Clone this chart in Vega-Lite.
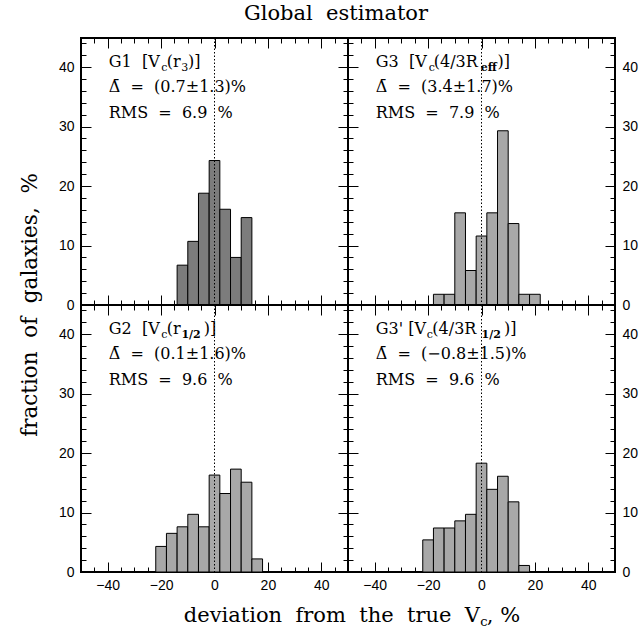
{
"$schema": "https://vega.github.io/schema/vega-lite/v6.json",
"autosize": "none",
"padding": {"left": 81, "top": 38, "right": 560, "bottom": 599},
"datasets": {"h": [
{"panel":"G1","lo":-14,"hi":-10,"pct":6.7},{"panel":"G1","lo":-10,"hi":-6,"pct":10.7},{"panel":"G1","lo":-6,"hi":-2,"pct":18.8},{"panel":"G1","lo":-2,"hi":2,"pct":24.3},{"panel":"G1","lo":2,"hi":6,"pct":16.1},{"panel":"G1","lo":6,"hi":10,"pct":8.0},{"panel":"G1","lo":10,"hi":14,"pct":14.7},
{"panel":"G3","lo":-18,"hi":-14,"pct":1.8},{"panel":"G3","lo":-14,"hi":-10,"pct":1.8},{"panel":"G3","lo":-10,"hi":-6,"pct":15.5},{"panel":"G3","lo":-6,"hi":-2,"pct":5.8},{"panel":"G3","lo":-2,"hi":2,"pct":11.6},{"panel":"G3","lo":2,"hi":6,"pct":15.5},{"panel":"G3","lo":6,"hi":10,"pct":29.3},{"panel":"G3","lo":10,"hi":14,"pct":13.7},{"panel":"G3","lo":14,"hi":18,"pct":1.8},{"panel":"G3","lo":18,"hi":22,"pct":1.8},
{"panel":"G2","lo":-22,"hi":-18,"pct":4.3},{"panel":"G2","lo":-18,"hi":-14,"pct":6.5},{"panel":"G2","lo":-14,"hi":-10,"pct":7.6},{"panel":"G2","lo":-10,"hi":-6,"pct":9.7},{"panel":"G2","lo":-6,"hi":-2,"pct":7.6},{"panel":"G2","lo":-2,"hi":2,"pct":16.3},{"panel":"G2","lo":2,"hi":6,"pct":13.2},{"panel":"G2","lo":6,"hi":10,"pct":17.3},{"panel":"G2","lo":10,"hi":14,"pct":15.1},{"panel":"G2","lo":14,"hi":18,"pct":2.2},
{"panel":"G3p","lo":-22,"hi":-18,"pct":5.4},{"panel":"G3p","lo":-18,"hi":-14,"pct":7.4},{"panel":"G3p","lo":-14,"hi":-10,"pct":7.4},{"panel":"G3p","lo":-10,"hi":-6,"pct":8.6},{"panel":"G3p","lo":-6,"hi":-2,"pct":9.7},{"panel":"G3p","lo":-2,"hi":2,"pct":18.3},{"panel":"G3p","lo":2,"hi":6,"pct":13.9},{"panel":"G3p","lo":6,"hi":10,"pct":16.1},{"panel":"G3p","lo":10,"hi":14,"pct":11.8},{"panel":"G3p","lo":14,"hi":18,"pct":1.1}
]},
"columns": 2,
"spacing": 0,
"bounds": "flush",
"concat": [
{
"width": 267, "height": 267,
"resolve": {"axis": {"x": "independent", "y": "independent"}},
"layer": [
{"data":{"name":"h"},"transform":[{"filter":"datum.panel === 'G1'"}],"mark":{"type":"rect","fill":"#7c7c7c","stroke":"black","strokeWidth":1},"encoding":{"x":{"field":"lo","type":"quantitative","scale":{"domain":[-50,50],"nice":false,"zero":false},"axis":null},"x2":{"field":"hi"},"y":{"field":"pct","type":"quantitative","scale":{"domain":[0,44.9],"nice":false,"zero":false},"axis":null},"y2":{"datum":0}}},
{"data":{"values":[{}]},"mark":{"type":"rule","color":"black","strokeWidth":1,"strokeDash":[1.5,2]},"encoding":{"x":{"datum":0,"type":"quantitative","scale":{"domain":[-50,50],"nice":false,"zero":false},"axis":null}}},
{"data":{"values":[{}]},"mark":{"type":"text","text":"Global\u00a0\u00a0estimator","font":"DejaVu Serif","fontSize":21,"align":"center","baseline":"alphabetic","color":"black"},"encoding":{"x":{"datum":45.5,"type":"quantitative","scale":{"domain":[-50,50],"nice":false,"zero":false},"axis":null},"y":{"datum":47.9,"type":"quantitative","scale":{"domain":[0,44.9],"nice":false,"zero":false},"axis":null}}},
{"data":{"values":[{}]},"mark":{"type":"text","text":"G1\u00a0\u00a0[V","font":"DejaVu Serif","fontSize":16,"align":"left","baseline":"alphabetic","color":"black"},"encoding":{"x":{"datum":-39.6,"type":"quantitative","scale":{"domain":[-50,50],"nice":false,"zero":false},"axis":null},"y":{"datum":40.1,"type":"quantitative","scale":{"domain":[0,44.9],"nice":false,"zero":false},"axis":null}}},
{"data":{"values":[{}]},"mark":{"type":"text","text":"c","font":"DejaVu Serif","fontSize":11,"align":"left","baseline":"alphabetic","dy":4,"color":"black"},"encoding":{"x":{"datum":-19.9,"type":"quantitative","scale":{"domain":[-50,50],"nice":false,"zero":false},"axis":null},"y":{"datum":40.1,"type":"quantitative","scale":{"domain":[0,44.9],"nice":false,"zero":false},"axis":null}}},
{"data":{"values":[{}]},"mark":{"type":"text","text":"(r","font":"DejaVu Serif","fontSize":16,"align":"left","baseline":"alphabetic","color":"black"},"encoding":{"x":{"datum":-17.9,"type":"quantitative","scale":{"domain":[-50,50],"nice":false,"zero":false},"axis":null},"y":{"datum":40.1,"type":"quantitative","scale":{"domain":[0,44.9],"nice":false,"zero":false},"axis":null}}},
{"data":{"values":[{}]},"mark":{"type":"text","text":"3","font":"DejaVu Serif","fontSize":11,"align":"left","baseline":"alphabetic","dy":4,"color":"black"},"encoding":{"x":{"datum":-12.5,"type":"quantitative","scale":{"domain":[-50,50],"nice":false,"zero":false},"axis":null},"y":{"datum":40.1,"type":"quantitative","scale":{"domain":[0,44.9],"nice":false,"zero":false},"axis":null}}},
{"data":{"values":[{}]},"mark":{"type":"text","text":")]","font":"DejaVu Serif","fontSize":16,"align":"left","baseline":"alphabetic","color":"black"},"encoding":{"x":{"datum":-9.9,"type":"quantitative","scale":{"domain":[-50,50],"nice":false,"zero":false},"axis":null},"y":{"datum":40.1,"type":"quantitative","scale":{"domain":[0,44.9],"nice":false,"zero":false},"axis":null}}},
{"data":{"values":[{}]},"mark":{"type":"text","text":"\u0394\u0304\u00a0\u00a0=\u00a0\u00a0(0.7\u00b11.3)%","font":"DejaVu Serif","fontSize":16,"align":"left","baseline":"alphabetic","color":"black"},"encoding":{"x":{"datum":-39.6,"type":"quantitative","scale":{"domain":[-50,50],"nice":false,"zero":false},"axis":null},"y":{"datum":35.9,"type":"quantitative","scale":{"domain":[0,44.9],"nice":false,"zero":false},"axis":null}}},
{"data":{"values":[{}]},"mark":{"type":"text","text":"RMS\u00a0\u00a0=\u00a0\u00a06.9\u00a0\u00a0%","font":"DejaVu Serif","fontSize":16,"align":"left","baseline":"alphabetic","color":"black"},"encoding":{"x":{"datum":-39.6,"type":"quantitative","scale":{"domain":[-50,50],"nice":false,"zero":false},"axis":null},"y":{"datum":31.5,"type":"quantitative","scale":{"domain":[0,44.9],"nice":false,"zero":false},"axis":null}}},
{"data":{"values":[{}]},"mark":{"type":"text","text":"fraction\u00a0\u00a0of\u00a0\u00a0galaxies,\u00a0\u00a0%","font":"DejaVu Serif","fontSize":21.5,"align":"center","baseline":"alphabetic","angle":270,"color":"black"},"encoding":{"x":{"datum":-66.5,"type":"quantitative","scale":{"domain":[-50,50],"nice":false,"zero":false},"axis":null},"y":{"datum":0,"type":"quantitative","scale":{"domain":[0,44.9],"nice":false,"zero":false},"axis":null}}},
{"data":{"values":[{}]},"mark":{"type":"point","opacity":0},"encoding":{"x":{"datum":0,"type":"quantitative","scale":{"domain":[-50,50],"nice":false,"zero":false},"axis":{"orient":"bottom","values":[-40,-20,0,20,40],"labels":false,"domain":false,"grid":false,"tickSize":-10,"tickColor":"black","title":null}},"y":{"datum":0,"type":"quantitative","scale":{"domain":[0,44.9],"nice":false,"zero":false},"axis":{"orient":"left","values":[0,10,20,30,40],"labels":false,"domain":false,"grid":false,"tickSize":-10,"tickColor":"black","title":null}}}},
{"data":{"values":[{}]},"mark":{"type":"point","opacity":0},"encoding":{"x":{"datum":0,"type":"quantitative","scale":{"domain":[-50,50],"nice":false,"zero":false},"axis":{"orient":"bottom","values":[-45,-35,-30,-25,-15,-10,-5,5,10,15,25,30,35,45],"labels":false,"domain":false,"grid":false,"tickSize":-5,"tickColor":"black","title":null}},"y":{"datum":0,"type":"quantitative","scale":{"domain":[0,44.9],"nice":false,"zero":false},"axis":{"orient":"left","values":[2,4,6,8,12,14,16,18,22,24,26,28,32,34,36,38,42,44],"labels":false,"domain":false,"grid":false,"tickSize":-5,"tickColor":"black","title":null}}}},
{"data":{"values":[{}]},"mark":{"type":"point","opacity":0},"encoding":{"x":{"datum":0,"type":"quantitative","scale":{"domain":[-50,50],"nice":false,"zero":false},"axis":{"orient":"top","values":[-40,-20,0,20,40],"labels":false,"domain":false,"grid":false,"tickSize":-10,"tickColor":"black","title":null}},"y":{"datum":0,"type":"quantitative","scale":{"domain":[0,44.9],"nice":false,"zero":false},"axis":{"orient":"right","values":[0,10,20,30,40],"labels":false,"domain":false,"grid":false,"tickSize":-10,"tickColor":"black","title":null}}}},
{"data":{"values":[{}]},"mark":{"type":"point","opacity":0},"encoding":{"x":{"datum":0,"type":"quantitative","scale":{"domain":[-50,50],"nice":false,"zero":false},"axis":{"orient":"top","values":[-45,-35,-30,-25,-15,-10,-5,5,10,15,25,30,35,45],"labels":false,"domain":false,"grid":false,"tickSize":-5,"tickColor":"black","title":null}},"y":{"datum":0,"type":"quantitative","scale":{"domain":[0,44.9],"nice":false,"zero":false},"axis":{"orient":"right","values":[2,4,6,8,12,14,16,18,22,24,26,28,32,34,36,38,42,44],"labels":false,"domain":false,"grid":false,"tickSize":-5,"tickColor":"black","title":null}}}},
{"data":{"values":[{}]},"mark":{"type":"point","opacity":0},"encoding":{"y":{"datum":0,"type":"quantitative","scale":{"domain":[0,44.9],"nice":false,"zero":false},"axis":{"orient":"left","values":[0,10,20,30,40],"ticks":false,"domain":false,"grid":false,"labelPadding":7,"labelFont":"Liberation Sans","labelFontSize":14,"labelColor":"black","labelOverlap":false,"labelFlush":false,"title":null}}}}
]
},
{
"width": 267, "height": 267,
"resolve": {"axis": {"x": "independent", "y": "independent"}},
"layer": [
{"data":{"name":"h"},"transform":[{"filter":"datum.panel === 'G3'"}],"mark":{"type":"rect","fill":"#a8a8a8","stroke":"black","strokeWidth":1},"encoding":{"x":{"field":"lo","type":"quantitative","scale":{"domain":[-50,50],"nice":false,"zero":false},"axis":null},"x2":{"field":"hi"},"y":{"field":"pct","type":"quantitative","scale":{"domain":[0,44.9],"nice":false,"zero":false},"axis":null},"y2":{"datum":0}}},
{"data":{"values":[{}]},"mark":{"type":"rule","color":"black","strokeWidth":1,"strokeDash":[1.5,2]},"encoding":{"x":{"datum":0,"type":"quantitative","scale":{"domain":[-50,50],"nice":false,"zero":false},"axis":null}}},
{"data":{"values":[{}]},"mark":{"type":"text","text":"G3\u00a0\u00a0[V","font":"DejaVu Serif","fontSize":16,"align":"left","baseline":"alphabetic","color":"black"},"encoding":{"x":{"datum":-39.6,"type":"quantitative","scale":{"domain":[-50,50],"nice":false,"zero":false},"axis":null},"y":{"datum":40.1,"type":"quantitative","scale":{"domain":[0,44.9],"nice":false,"zero":false},"axis":null}}},
{"data":{"values":[{}]},"mark":{"type":"text","text":"c","font":"DejaVu Serif","fontSize":11,"align":"left","baseline":"alphabetic","dy":4,"color":"black"},"encoding":{"x":{"datum":-19.8,"type":"quantitative","scale":{"domain":[-50,50],"nice":false,"zero":false},"axis":null},"y":{"datum":40.1,"type":"quantitative","scale":{"domain":[0,44.9],"nice":false,"zero":false},"axis":null}}},
{"data":{"values":[{}]},"mark":{"type":"text","text":"(4/3R","font":"DejaVu Serif","fontSize":16,"align":"left","baseline":"alphabetic","color":"black"},"encoding":{"x":{"datum":-17.9,"type":"quantitative","scale":{"domain":[-50,50],"nice":false,"zero":false},"axis":null},"y":{"datum":40.1,"type":"quantitative","scale":{"domain":[0,44.9],"nice":false,"zero":false},"axis":null}}},
{"data":{"values":[{}]},"mark":{"type":"text","text":"eff","font":"DejaVu Serif","fontSize":11,"fontWeight":"bold","align":"left","baseline":"alphabetic","dy":4,"color":"black"},"encoding":{"x":{"datum":-0.3,"type":"quantitative","scale":{"domain":[-50,50],"nice":false,"zero":false},"axis":null},"y":{"datum":40.1,"type":"quantitative","scale":{"domain":[0,44.9],"nice":false,"zero":false},"axis":null}}},
{"data":{"values":[{}]},"mark":{"type":"text","text":")]","font":"DejaVu Serif","fontSize":16,"align":"left","baseline":"alphabetic","color":"black"},"encoding":{"x":{"datum":6.0,"type":"quantitative","scale":{"domain":[-50,50],"nice":false,"zero":false},"axis":null},"y":{"datum":40.1,"type":"quantitative","scale":{"domain":[0,44.9],"nice":false,"zero":false},"axis":null}}},
{"data":{"values":[{}]},"mark":{"type":"text","text":"\u0394\u0304\u00a0\u00a0=\u00a0\u00a0(3.4\u00b11.7)%","font":"DejaVu Serif","fontSize":16,"align":"left","baseline":"alphabetic","color":"black"},"encoding":{"x":{"datum":-39.6,"type":"quantitative","scale":{"domain":[-50,50],"nice":false,"zero":false},"axis":null},"y":{"datum":35.9,"type":"quantitative","scale":{"domain":[0,44.9],"nice":false,"zero":false},"axis":null}}},
{"data":{"values":[{}]},"mark":{"type":"text","text":"RMS\u00a0\u00a0=\u00a0\u00a07.9\u00a0\u00a0%","font":"DejaVu Serif","fontSize":16,"align":"left","baseline":"alphabetic","color":"black"},"encoding":{"x":{"datum":-39.6,"type":"quantitative","scale":{"domain":[-50,50],"nice":false,"zero":false},"axis":null},"y":{"datum":31.5,"type":"quantitative","scale":{"domain":[0,44.9],"nice":false,"zero":false},"axis":null}}},
{"data":{"values":[{}]},"mark":{"type":"point","opacity":0},"encoding":{"x":{"datum":0,"type":"quantitative","scale":{"domain":[-50,50],"nice":false,"zero":false},"axis":{"orient":"bottom","values":[-40,-20,0,20,40],"labels":false,"domain":false,"grid":false,"tickSize":-10,"tickColor":"black","title":null}},"y":{"datum":0,"type":"quantitative","scale":{"domain":[0,44.9],"nice":false,"zero":false},"axis":{"orient":"left","values":[0,10,20,30,40],"labels":false,"domain":false,"grid":false,"tickSize":-10,"tickColor":"black","title":null}}}},
{"data":{"values":[{}]},"mark":{"type":"point","opacity":0},"encoding":{"x":{"datum":0,"type":"quantitative","scale":{"domain":[-50,50],"nice":false,"zero":false},"axis":{"orient":"bottom","values":[-45,-35,-30,-25,-15,-10,-5,5,10,15,25,30,35,45],"labels":false,"domain":false,"grid":false,"tickSize":-5,"tickColor":"black","title":null}},"y":{"datum":0,"type":"quantitative","scale":{"domain":[0,44.9],"nice":false,"zero":false},"axis":{"orient":"left","values":[2,4,6,8,12,14,16,18,22,24,26,28,32,34,36,38,42,44],"labels":false,"domain":false,"grid":false,"tickSize":-5,"tickColor":"black","title":null}}}},
{"data":{"values":[{}]},"mark":{"type":"point","opacity":0},"encoding":{"x":{"datum":0,"type":"quantitative","scale":{"domain":[-50,50],"nice":false,"zero":false},"axis":{"orient":"top","values":[-40,-20,0,20,40],"labels":false,"domain":false,"grid":false,"tickSize":-10,"tickColor":"black","title":null}},"y":{"datum":0,"type":"quantitative","scale":{"domain":[0,44.9],"nice":false,"zero":false},"axis":{"orient":"right","values":[0,10,20,30,40],"labels":false,"domain":false,"grid":false,"tickSize":-10,"tickColor":"black","title":null}}}},
{"data":{"values":[{}]},"mark":{"type":"point","opacity":0},"encoding":{"x":{"datum":0,"type":"quantitative","scale":{"domain":[-50,50],"nice":false,"zero":false},"axis":{"orient":"top","values":[-45,-35,-30,-25,-15,-10,-5,5,10,15,25,30,35,45],"labels":false,"domain":false,"grid":false,"tickSize":-5,"tickColor":"black","title":null}},"y":{"datum":0,"type":"quantitative","scale":{"domain":[0,44.9],"nice":false,"zero":false},"axis":{"orient":"right","values":[2,4,6,8,12,14,16,18,22,24,26,28,32,34,36,38,42,44],"labels":false,"domain":false,"grid":false,"tickSize":-5,"tickColor":"black","title":null}}}},
{"data":{"values":[{}]},"mark":{"type":"point","opacity":0},"encoding":{"y":{"datum":0,"type":"quantitative","scale":{"domain":[0,44.9],"nice":false,"zero":false},"axis":{"orient":"right","values":[0,10,20,30,40],"ticks":false,"domain":false,"grid":false,"labelPadding":7,"labelFont":"Liberation Sans","labelFontSize":14,"labelColor":"black","labelOverlap":false,"labelFlush":false,"title":null}}}}
]
},
{
"width": 267, "height": 267,
"resolve": {"axis": {"x": "independent", "y": "independent"}},
"layer": [
{"data":{"name":"h"},"transform":[{"filter":"datum.panel === 'G2'"}],"mark":{"type":"rect","fill":"#a8a8a8","stroke":"black","strokeWidth":1},"encoding":{"x":{"field":"lo","type":"quantitative","scale":{"domain":[-50,50],"nice":false,"zero":false},"axis":null},"x2":{"field":"hi"},"y":{"field":"pct","type":"quantitative","scale":{"domain":[0,44.9],"nice":false,"zero":false},"axis":null},"y2":{"datum":0}}},
{"data":{"values":[{}]},"mark":{"type":"rule","color":"black","strokeWidth":1,"strokeDash":[1.5,2]},"encoding":{"x":{"datum":0,"type":"quantitative","scale":{"domain":[-50,50],"nice":false,"zero":false},"axis":null}}},
{"data":{"values":[{}]},"mark":{"type":"text","text":"G2\u00a0\u00a0[V","font":"DejaVu Serif","fontSize":16,"align":"left","baseline":"alphabetic","color":"black"},"encoding":{"x":{"datum":-39.6,"type":"quantitative","scale":{"domain":[-50,50],"nice":false,"zero":false},"axis":null},"y":{"datum":40.1,"type":"quantitative","scale":{"domain":[0,44.9],"nice":false,"zero":false},"axis":null}}},
{"data":{"values":[{}]},"mark":{"type":"text","text":"c","font":"DejaVu Serif","fontSize":11,"align":"left","baseline":"alphabetic","dy":4,"color":"black"},"encoding":{"x":{"datum":-19.9,"type":"quantitative","scale":{"domain":[-50,50],"nice":false,"zero":false},"axis":null},"y":{"datum":40.1,"type":"quantitative","scale":{"domain":[0,44.9],"nice":false,"zero":false},"axis":null}}},
{"data":{"values":[{}]},"mark":{"type":"text","text":"(r","font":"DejaVu Serif","fontSize":16,"align":"left","baseline":"alphabetic","color":"black"},"encoding":{"x":{"datum":-17.9,"type":"quantitative","scale":{"domain":[-50,50],"nice":false,"zero":false},"axis":null},"y":{"datum":40.1,"type":"quantitative","scale":{"domain":[0,44.9],"nice":false,"zero":false},"axis":null}}},
{"data":{"values":[{}]},"mark":{"type":"text","text":"1/2","font":"DejaVu Serif","fontSize":11,"fontWeight":"bold","align":"left","baseline":"alphabetic","dy":4,"color":"black"},"encoding":{"x":{"datum":-12.4,"type":"quantitative","scale":{"domain":[-50,50],"nice":false,"zero":false},"axis":null},"y":{"datum":40.1,"type":"quantitative","scale":{"domain":[0,44.9],"nice":false,"zero":false},"axis":null}}},
{"data":{"values":[{}]},"mark":{"type":"text","text":")]","font":"DejaVu Serif","fontSize":16,"align":"left","baseline":"alphabetic","color":"black"},"encoding":{"x":{"datum":-4.0,"type":"quantitative","scale":{"domain":[-50,50],"nice":false,"zero":false},"axis":null},"y":{"datum":40.1,"type":"quantitative","scale":{"domain":[0,44.9],"nice":false,"zero":false},"axis":null}}},
{"data":{"values":[{}]},"mark":{"type":"text","text":"\u0394\u0304\u00a0\u00a0=\u00a0\u00a0(0.1\u00b11.6)%","font":"DejaVu Serif","fontSize":16,"align":"left","baseline":"alphabetic","color":"black"},"encoding":{"x":{"datum":-39.6,"type":"quantitative","scale":{"domain":[-50,50],"nice":false,"zero":false},"axis":null},"y":{"datum":35.9,"type":"quantitative","scale":{"domain":[0,44.9],"nice":false,"zero":false},"axis":null}}},
{"data":{"values":[{}]},"mark":{"type":"text","text":"RMS\u00a0\u00a0=\u00a0\u00a09.6\u00a0\u00a0%","font":"DejaVu Serif","fontSize":16,"align":"left","baseline":"alphabetic","color":"black"},"encoding":{"x":{"datum":-39.6,"type":"quantitative","scale":{"domain":[-50,50],"nice":false,"zero":false},"axis":null},"y":{"datum":31.5,"type":"quantitative","scale":{"domain":[0,44.9],"nice":false,"zero":false},"axis":null}}},
{"data":{"values":[{}]},"mark":{"type":"text","text":"deviation\u00a0\u00a0from\u00a0\u00a0the\u00a0\u00a0true\u00a0\u00a0V","font":"DejaVu Serif","fontSize":21,"align":"right","baseline":"alphabetic","color":"black"},"encoding":{"x":{"datum":99.4,"type":"quantitative","scale":{"domain":[-50,50],"nice":false,"zero":false},"axis":null},"y":{"datum":-8.4,"type":"quantitative","scale":{"domain":[0,44.9],"nice":false,"zero":false},"axis":null}}},
{"data":{"values":[{}]},"mark":{"type":"text","text":"c","font":"DejaVu Serif","fontSize":13,"align":"left","baseline":"alphabetic","dy":4,"color":"black"},"encoding":{"x":{"datum":99.5,"type":"quantitative","scale":{"domain":[-50,50],"nice":false,"zero":false},"axis":null},"y":{"datum":-8.4,"type":"quantitative","scale":{"domain":[0,44.9],"nice":false,"zero":false},"axis":null}}},
{"data":{"values":[{}]},"mark":{"type":"text","text":",\u00a0%","font":"DejaVu Serif","fontSize":21,"align":"left","baseline":"alphabetic","color":"black"},"encoding":{"x":{"datum":102.0,"type":"quantitative","scale":{"domain":[-50,50],"nice":false,"zero":false},"axis":null},"y":{"datum":-8.4,"type":"quantitative","scale":{"domain":[0,44.9],"nice":false,"zero":false},"axis":null}}},
{"data":{"values":[{}]},"mark":{"type":"point","opacity":0},"encoding":{"x":{"datum":0,"type":"quantitative","scale":{"domain":[-50,50],"nice":false,"zero":false},"axis":{"orient":"bottom","values":[-40,-20,0,20,40],"labels":false,"domain":false,"grid":false,"tickSize":-10,"tickColor":"black","title":null}},"y":{"datum":0,"type":"quantitative","scale":{"domain":[0,44.9],"nice":false,"zero":false},"axis":{"orient":"left","values":[0,10,20,30,40],"labels":false,"domain":false,"grid":false,"tickSize":-10,"tickColor":"black","title":null}}}},
{"data":{"values":[{}]},"mark":{"type":"point","opacity":0},"encoding":{"x":{"datum":0,"type":"quantitative","scale":{"domain":[-50,50],"nice":false,"zero":false},"axis":{"orient":"bottom","values":[-45,-35,-30,-25,-15,-10,-5,5,10,15,25,30,35,45],"labels":false,"domain":false,"grid":false,"tickSize":-5,"tickColor":"black","title":null}},"y":{"datum":0,"type":"quantitative","scale":{"domain":[0,44.9],"nice":false,"zero":false},"axis":{"orient":"left","values":[2,4,6,8,12,14,16,18,22,24,26,28,32,34,36,38,42,44],"labels":false,"domain":false,"grid":false,"tickSize":-5,"tickColor":"black","title":null}}}},
{"data":{"values":[{}]},"mark":{"type":"point","opacity":0},"encoding":{"x":{"datum":0,"type":"quantitative","scale":{"domain":[-50,50],"nice":false,"zero":false},"axis":{"orient":"top","values":[-40,-20,0,20,40],"labels":false,"domain":false,"grid":false,"tickSize":-10,"tickColor":"black","title":null}},"y":{"datum":0,"type":"quantitative","scale":{"domain":[0,44.9],"nice":false,"zero":false},"axis":{"orient":"right","values":[0,10,20,30,40],"labels":false,"domain":false,"grid":false,"tickSize":-10,"tickColor":"black","title":null}}}},
{"data":{"values":[{}]},"mark":{"type":"point","opacity":0},"encoding":{"x":{"datum":0,"type":"quantitative","scale":{"domain":[-50,50],"nice":false,"zero":false},"axis":{"orient":"top","values":[-45,-35,-30,-25,-15,-10,-5,5,10,15,25,30,35,45],"labels":false,"domain":false,"grid":false,"tickSize":-5,"tickColor":"black","title":null}},"y":{"datum":0,"type":"quantitative","scale":{"domain":[0,44.9],"nice":false,"zero":false},"axis":{"orient":"right","values":[2,4,6,8,12,14,16,18,22,24,26,28,32,34,36,38,42,44],"labels":false,"domain":false,"grid":false,"tickSize":-5,"tickColor":"black","title":null}}}},
{"data":{"values":[{}]},"mark":{"type":"point","opacity":0},"encoding":{"x":{"datum":0,"type":"quantitative","scale":{"domain":[-50,50],"nice":false,"zero":false},"axis":{"orient":"bottom","values":[-40,-20,0,20,40],"ticks":false,"domain":false,"grid":false,"labelPadding":6,"labelFont":"Liberation Sans","labelFontSize":14,"labelColor":"black","labelOverlap":false,"labelFlush":false,"title":null}},"y":{"datum":0,"type":"quantitative","scale":{"domain":[0,44.9],"nice":false,"zero":false},"axis":{"orient":"left","values":[0,10,20,30,40],"ticks":false,"domain":false,"grid":false,"labelPadding":7,"labelFont":"Liberation Sans","labelFontSize":14,"labelColor":"black","labelOverlap":false,"labelFlush":false,"title":null}}}}
]
},
{
"width": 267, "height": 267,
"resolve": {"axis": {"x": "independent", "y": "independent"}},
"layer": [
{"data":{"name":"h"},"transform":[{"filter":"datum.panel === 'G3p'"}],"mark":{"type":"rect","fill":"#a8a8a8","stroke":"black","strokeWidth":1},"encoding":{"x":{"field":"lo","type":"quantitative","scale":{"domain":[-50,50],"nice":false,"zero":false},"axis":null},"x2":{"field":"hi"},"y":{"field":"pct","type":"quantitative","scale":{"domain":[0,44.9],"nice":false,"zero":false},"axis":null},"y2":{"datum":0}}},
{"data":{"values":[{}]},"mark":{"type":"rule","color":"black","strokeWidth":1,"strokeDash":[1.5,2]},"encoding":{"x":{"datum":0,"type":"quantitative","scale":{"domain":[-50,50],"nice":false,"zero":false},"axis":null}}},
{"data":{"values":[{}]},"mark":{"type":"text","text":"G3'\u00a0[V","font":"DejaVu Serif","fontSize":16,"align":"left","baseline":"alphabetic","color":"black"},"encoding":{"x":{"datum":-39.6,"type":"quantitative","scale":{"domain":[-50,50],"nice":false,"zero":false},"axis":null},"y":{"datum":40.1,"type":"quantitative","scale":{"domain":[0,44.9],"nice":false,"zero":false},"axis":null}}},
{"data":{"values":[{}]},"mark":{"type":"text","text":"c","font":"DejaVu Serif","fontSize":11,"align":"left","baseline":"alphabetic","dy":4,"color":"black"},"encoding":{"x":{"datum":-20.5,"type":"quantitative","scale":{"domain":[-50,50],"nice":false,"zero":false},"axis":null},"y":{"datum":40.1,"type":"quantitative","scale":{"domain":[0,44.9],"nice":false,"zero":false},"axis":null}}},
{"data":{"values":[{}]},"mark":{"type":"text","text":"(4/3R","font":"DejaVu Serif","fontSize":16,"align":"left","baseline":"alphabetic","color":"black"},"encoding":{"x":{"datum":-18.4,"type":"quantitative","scale":{"domain":[-50,50],"nice":false,"zero":false},"axis":null},"y":{"datum":40.1,"type":"quantitative","scale":{"domain":[0,44.9],"nice":false,"zero":false},"axis":null}}},
{"data":{"values":[{}]},"mark":{"type":"text","text":"1/2","font":"DejaVu Serif","fontSize":11,"fontWeight":"bold","align":"left","baseline":"alphabetic","dy":4,"color":"black"},"encoding":{"x":{"datum":0.0,"type":"quantitative","scale":{"domain":[-50,50],"nice":false,"zero":false},"axis":null},"y":{"datum":40.1,"type":"quantitative","scale":{"domain":[0,44.9],"nice":false,"zero":false},"axis":null}}},
{"data":{"values":[{}]},"mark":{"type":"text","text":")]","font":"DejaVu Serif","fontSize":16,"align":"left","baseline":"alphabetic","color":"black"},"encoding":{"x":{"datum":8.4,"type":"quantitative","scale":{"domain":[-50,50],"nice":false,"zero":false},"axis":null},"y":{"datum":40.1,"type":"quantitative","scale":{"domain":[0,44.9],"nice":false,"zero":false},"axis":null}}},
{"data":{"values":[{}]},"mark":{"type":"text","text":"\u0394\u0304\u00a0\u00a0=\u00a0\u00a0(\u22120.8\u00b11.5)%","font":"DejaVu Serif","fontSize":16,"align":"left","baseline":"alphabetic","color":"black"},"encoding":{"x":{"datum":-39.6,"type":"quantitative","scale":{"domain":[-50,50],"nice":false,"zero":false},"axis":null},"y":{"datum":35.9,"type":"quantitative","scale":{"domain":[0,44.9],"nice":false,"zero":false},"axis":null}}},
{"data":{"values":[{}]},"mark":{"type":"text","text":"RMS\u00a0\u00a0=\u00a0\u00a09.6\u00a0\u00a0%","font":"DejaVu Serif","fontSize":16,"align":"left","baseline":"alphabetic","color":"black"},"encoding":{"x":{"datum":-39.6,"type":"quantitative","scale":{"domain":[-50,50],"nice":false,"zero":false},"axis":null},"y":{"datum":31.5,"type":"quantitative","scale":{"domain":[0,44.9],"nice":false,"zero":false},"axis":null}}},
{"data":{"values":[{}]},"mark":{"type":"point","opacity":0},"encoding":{"x":{"datum":0,"type":"quantitative","scale":{"domain":[-50,50],"nice":false,"zero":false},"axis":{"orient":"bottom","values":[-40,-20,0,20,40],"labels":false,"domain":false,"grid":false,"tickSize":-10,"tickColor":"black","title":null}},"y":{"datum":0,"type":"quantitative","scale":{"domain":[0,44.9],"nice":false,"zero":false},"axis":{"orient":"left","values":[0,10,20,30,40],"labels":false,"domain":false,"grid":false,"tickSize":-10,"tickColor":"black","title":null}}}},
{"data":{"values":[{}]},"mark":{"type":"point","opacity":0},"encoding":{"x":{"datum":0,"type":"quantitative","scale":{"domain":[-50,50],"nice":false,"zero":false},"axis":{"orient":"bottom","values":[-45,-35,-30,-25,-15,-10,-5,5,10,15,25,30,35,45],"labels":false,"domain":false,"grid":false,"tickSize":-5,"tickColor":"black","title":null}},"y":{"datum":0,"type":"quantitative","scale":{"domain":[0,44.9],"nice":false,"zero":false},"axis":{"orient":"left","values":[2,4,6,8,12,14,16,18,22,24,26,28,32,34,36,38,42,44],"labels":false,"domain":false,"grid":false,"tickSize":-5,"tickColor":"black","title":null}}}},
{"data":{"values":[{}]},"mark":{"type":"point","opacity":0},"encoding":{"x":{"datum":0,"type":"quantitative","scale":{"domain":[-50,50],"nice":false,"zero":false},"axis":{"orient":"top","values":[-40,-20,0,20,40],"labels":false,"domain":false,"grid":false,"tickSize":-10,"tickColor":"black","title":null}},"y":{"datum":0,"type":"quantitative","scale":{"domain":[0,44.9],"nice":false,"zero":false},"axis":{"orient":"right","values":[0,10,20,30,40],"labels":false,"domain":false,"grid":false,"tickSize":-10,"tickColor":"black","title":null}}}},
{"data":{"values":[{}]},"mark":{"type":"point","opacity":0},"encoding":{"x":{"datum":0,"type":"quantitative","scale":{"domain":[-50,50],"nice":false,"zero":false},"axis":{"orient":"top","values":[-45,-35,-30,-25,-15,-10,-5,5,10,15,25,30,35,45],"labels":false,"domain":false,"grid":false,"tickSize":-5,"tickColor":"black","title":null}},"y":{"datum":0,"type":"quantitative","scale":{"domain":[0,44.9],"nice":false,"zero":false},"axis":{"orient":"right","values":[2,4,6,8,12,14,16,18,22,24,26,28,32,34,36,38,42,44],"labels":false,"domain":false,"grid":false,"tickSize":-5,"tickColor":"black","title":null}}}},
{"data":{"values":[{}]},"mark":{"type":"point","opacity":0},"encoding":{"x":{"datum":0,"type":"quantitative","scale":{"domain":[-50,50],"nice":false,"zero":false},"axis":{"orient":"bottom","values":[-40,-20,0,20,40],"ticks":false,"domain":false,"grid":false,"labelPadding":6,"labelFont":"Liberation Sans","labelFontSize":14,"labelColor":"black","labelOverlap":false,"labelFlush":false,"title":null}},"y":{"datum":0,"type":"quantitative","scale":{"domain":[0,44.9],"nice":false,"zero":false},"axis":{"orient":"right","values":[0,10,20,30,40],"ticks":false,"domain":false,"grid":false,"labelPadding":7,"labelFont":"Liberation Sans","labelFontSize":14,"labelColor":"black","labelOverlap":false,"labelFlush":false,"title":null}}}}
]
}
],
"config": {"view": {"stroke": "black", "strokeWidth": 2}, "background": "white"}
}
